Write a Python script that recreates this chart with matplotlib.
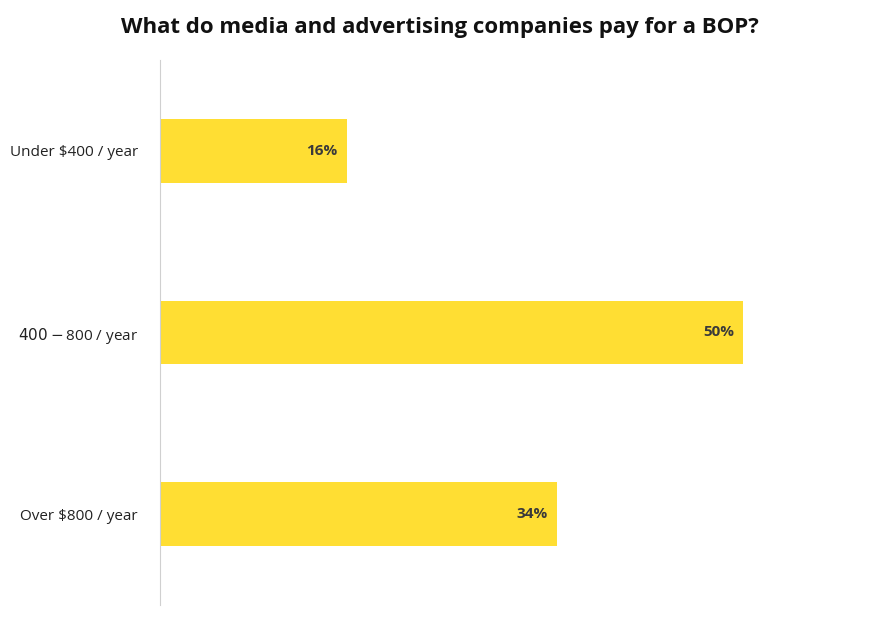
import matplotlib
matplotlib.use("Agg")
import matplotlib.pyplot as plt

# data
categories = ["Under $400 / year", "$400-$800 / year", "Over $800 / year"]
shares = [16, 50, 34]

plt.rcParams["font.family"] = "Open Sans"

fig = plt.figure(figsize=(8.76, 6.2), dpi=100)
ax = fig.add_axes([160 / 876, 15 / 620, 700 / 876, 545 / 620])

pos = list(range(len(categories)))
ax.barh(pos, shares, height=0.35, color="#FFDE33")
for p, v in zip(pos, shares):
    ax.text(v - 0.8, p, f"{v}%", ha="right", va="center",
            fontsize=11, fontweight="bold", color="#3a3a3a")

ax.set_yticks(pos)
ax.set_yticklabels(categories, fontsize=11, color="#222222")
ax.set_ylim(2.5, -0.5)
ax.set_xlim(0, 60)
ax.set_xticks([])
ax.tick_params(axis="y", length=0, pad=16)
for s in ["top", "right", "bottom"]:
    ax.spines[s].set_visible(False)
ax.spines["left"].set_color("#d0d0d0")

fig.text(440 / 876, 1 - 27 / 620, "What do media and advertising companies pay for a BOP?",
         ha="center", va="center", fontsize=16, fontweight="bold", color="#111111")

fig.savefig("out.png", dpi=100)
